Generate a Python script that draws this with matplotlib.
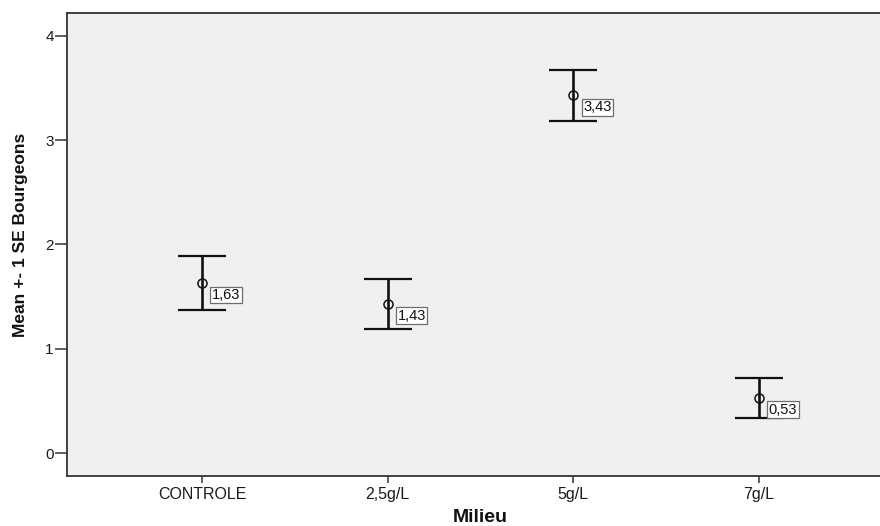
import matplotlib
matplotlib.use("Agg")
import matplotlib.pyplot as plt

# Mean number of buds per medium, with +/- 1 standard error
categories = ["CONTROLE", "2,5g/L", "5g/L", "7g/L"]
means = [1.63, 1.43, 3.43, 0.53]
se = [0.26, 0.24, 0.245, 0.19]
value_labels = ["1,63", "1,43", "3,43", "0,53"]
y_ticks = [0, 1, 2, 3, 4]

plt.rcParams["font.family"] = ["Liberation Sans", "DejaVu Sans"]

fig = plt.figure(figsize=(8.8, 5.26), dpi=100)
fig.patch.set_facecolor("white")
ax = fig.add_axes([67 / 880, 1 - 476 / 526, (894 - 67) / 880, (476 - 13) / 526])
ax.set_facecolor("#f0f0f0")

x = list(range(1, len(categories) + 1))
ax.errorbar(x, means, yerr=se, fmt="none", ecolor="#111111",
            elinewidth=1.9, capsize=17, capthick=1.6, zorder=3)
ax.plot(x, means, linestyle="none", marker="o", markersize=6.5,
        markerfacecolor="none", markeredgecolor="#111111",
        markeredgewidth=1.1, zorder=4)

for xi, m, lab in zip(x, means, value_labels):
    ax.annotate(lab, (xi, m), xytext=(7, -8.6), textcoords="offset points",
                ha="left", va="center", fontsize=10.5, color="#111111",
                bbox=dict(boxstyle="square,pad=0.1", facecolor="white",
                          edgecolor="#6e6e6e", linewidth=0.9),
                zorder=5)

ax.set_xlim(0.273, 4.727)
ax.set_ylim(-0.22, 4.22)
ax.set_xticks(x)
ax.set_xticklabels(categories, fontsize=11.5, color="#1a1a1a")
ax.set_yticks(y_ticks)
ax.set_yticklabels([str(t) for t in y_ticks], fontsize=11, color="#1a1a1a")

ax.tick_params(axis="y", length=8.5, width=1.1, color="#333333", pad=1)
ax.tick_params(axis="x", length=5, width=1.1, color="#333333", pad=3)

for side in ["left", "right", "top", "bottom"]:
    ax.spines[side].set_color("#333333")
    ax.spines[side].set_linewidth(1.3)

ax.set_xlabel("Milieu", fontsize=14, fontweight="bold", color="#111111")
ax.xaxis.set_label_coords(0.5, -0.071)
ax.set_ylabel("Mean +- 1 SE Bourgeons", fontsize=12.5, fontweight="bold",
              color="#111111")
ax.yaxis.set_label_coords(-0.047, 0.52)

fig.savefig("out.png", dpi=100, facecolor=fig.get_facecolor())
